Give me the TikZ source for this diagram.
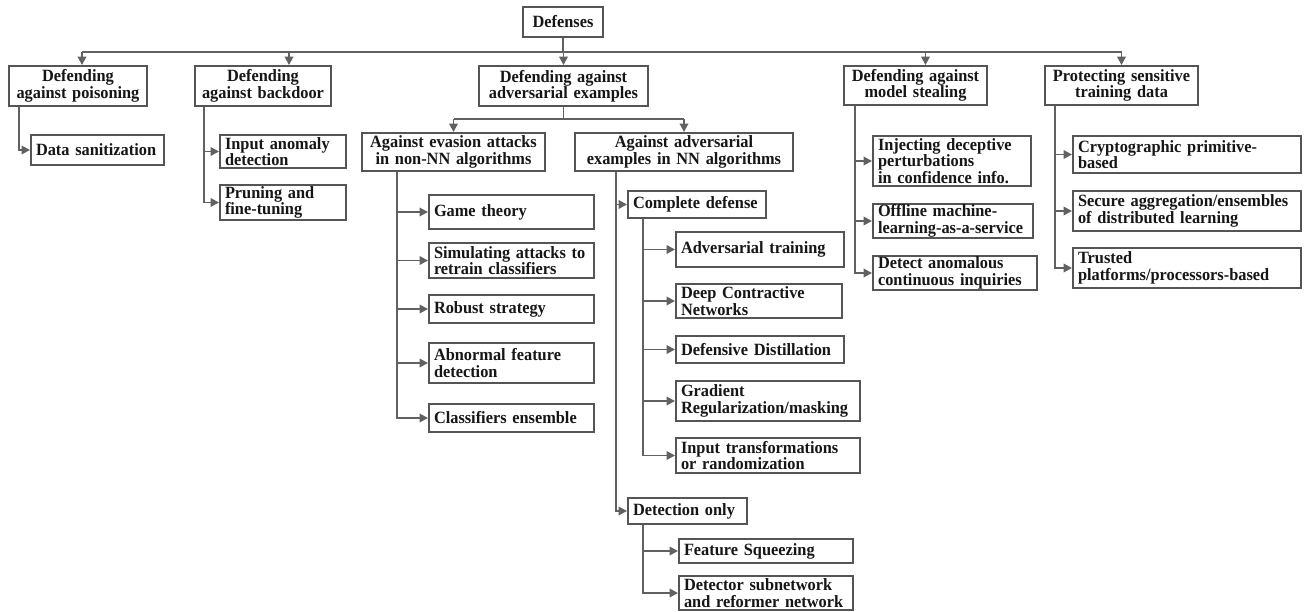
\documentclass[tikz,border=0pt]{standalone}
\usepackage{fontspec}
\setmainfont[FakeStretch=0.95]{Liberation Serif}
\usetikzlibrary{arrows.meta}
\definecolor{edgegray}{HTML}{555555}
\definecolor{linegray}{HTML}{616161}
\definecolor{inkdark}{HTML}{161616}
% box from corner (x1,y1) to (x2,y2), y measured downwards
\newcommand\treebox[7][left]{%
  \pgfmathsetmacro\bxw{#4-#2}\pgfmathsetmacro\bxh{#5-#3}%
  \pgfmathsetmacro\bxcx{(#2+#4)/2}\pgfmathsetmacro\bxcy{-(#3+#5)/2}%
  \pgfmathsetmacro\bxtw{#4-#2-10}%
  \node[box, minimum width=\bxw pt, minimum height=\bxh pt, text width=\bxtw pt, align=#1]
    (#6) at (\bxcx pt,\bxcy pt) {#7};}
\begin{document}
\begin{tikzpicture}[
  box/.style={draw=edgegray, line width=1.9pt, fill=white, inner xsep=5pt, inner ysep=0pt,
    text=inkdark, font=\fontsize{17.2pt}{16.4pt}\selectfont\bfseries},
  link/.style={draw=linegray, line width=1.9pt},
  arr/.style={link, -{Triangle[length=8.5pt,width=8.5pt]}}
]
\useasboundingbox (0,0) rectangle (1307pt,-611pt);

% top level
\treebox[center]{523}{7}{603}{37}{def}{Defenses}
\treebox[center]{9}{66}{147}{106}{pois}{Defending\\against poisoning}
\treebox[center]{195}{66}{331}{106}{back}{Defending\\against backdoor}
\treebox[center]{479}{66}{648}{106}{adv}{Defending against\\adversarial examples}
\treebox[center]{844}{66}{987}{105}{steal}{Defending against\\model stealing}
\treebox[center]{1045}{66}{1198}{105}{prot}{Protecting sensitive\\training data}

% poisoning / backdoor
\treebox{31}{135}{164}{165}{san}{Data sanitization}
\treebox{220}{135}{346}{168}{anom}{Input anomaly\\detection}
\treebox{220}{185}{346}{220}{prune}{Pruning and\\fine-tuning}

% adversarial examples
\treebox[center]{362}{133}{545}{171}{evas}{Against evasion attacks\\in non-NN algorithms}
\treebox[center]{575}{133}{793}{171}{nn}{Against adversarial\\examples in NN algorithms}
\treebox{429}{195}{594}{229}{game}{Game theory}
\treebox{429}{243}{594}{278}{simu}{Simulating attacks to\\retrain classifiers}
\treebox{429}{295}{594}{323}{robust}{Robust strategy}
\treebox{429}{343}{594}{383}{abn}{Abnormal feature\\detection}
\treebox{429}{404}{594}{432}{ens}{Classifiers ensemble}
\treebox{628}{191}{766}{218}{comp}{Complete defense}
\treebox{676}{232}{844}{267}{advtr}{Adversarial training}
\treebox{676}{284}{842}{318}{dcn}{Deep Contractive\\Networks}
\treebox{676}{336}{844}{363}{dist}{Defensive Distillation}
\treebox{676}{381}{860}{421}{grad}{Gradient\\Regularization/masking}
\treebox{676}{438}{860}{473}{trans}{Input transformations\\or randomization}
\treebox{628}{498}{747}{524}{detonly}{Detection only}
\treebox{679}{539}{853}{563}{squeeze}{Feature Squeezing}
\treebox{679}{576}{853}{610}{reform}{Detector subnetwork\\and reformer network}

% model stealing
\treebox{873}{136}{1031}{186}{inject}{Injecting deceptive\\perturbations\\in confidence info.}
\treebox{873}{204}{1033}{238}{offline}{Offline machine-\\learning-as-a-service}
\treebox{873}{256}{1037}{290}{inq}{Detect anomalous\\continuous inquiries}

% sensitive training data
\treebox{1073}{136}{1301}{173}{crypto}{Cryptographic primitive-\\based}
\treebox{1073}{191}{1301}{231}{secagg}{Secure aggregation/ensembles\\of distributed learning}
\treebox{1073}{248}{1301}{288}{trust}{Trusted\\platforms/processors-based}

% main bus
\coordinate (bus) at (0,-52pt);
\draw[link] (def.south) -- (def.south |- bus);
\draw[link] ([xshift=4pt]pois.north |- bus) -- (prot.north |- bus);
\draw[arr] ([xshift=4pt]pois.north |- bus) -- ([xshift=4pt]pois.north);
\draw[arr] ([xshift=26pt]back.north |- bus) -- ([xshift=26pt]back.north);
\draw[arr] (adv.north |- bus) -- (adv.north);
\draw[arr] ([xshift=10pt]steal.north |- bus) -- ([xshift=10pt]steal.north);
\draw[arr] (prot.north |- bus) -- (prot.north);

% poisoning and backdoor
\draw[arr] ([xshift=11pt]pois.south west) |- (san.west);
\draw[arr] ([xshift=10pt]back.south west) |- (prune.west);
\draw[arr] ([xshift=10pt]back.south west |- anom.west) -- (anom.west);

% adversarial split
\coordinate (advbus) at ([yshift=-12pt]adv.south);
\draw[link] (adv.south) -- (advbus);
\draw[link] (evas.north |- advbus) -- (nn.north |- advbus);
\draw[arr] (evas.north |- advbus) -- (evas.north);
\draw[arr] (nn.north |- advbus) -- (nn.north);

% non-NN branch
\coordinate (evt) at ([xshift=36pt]evas.south west);
\draw[arr] (evt) |- (ens.west);
\foreach \c in {game,simu,robust,abn} \draw[arr] (evt |- \c.west) -- (\c.west);

% NN branch
\coordinate (nnt) at ([xshift=42pt]nn.south west);
\draw[arr] (nnt) |- (detonly.west);
\draw[arr] (nnt |- comp.west) -- (comp.west);
\coordinate (cpt) at ([xshift=16pt]comp.south west);
\draw[arr] (cpt) |- (trans.west);
\foreach \c in {advtr,dcn,dist,grad} \draw[arr] (cpt |- \c.west) -- (\c.west);
\coordinate (dtt) at ([xshift=16pt]detonly.south west);
\draw[arr] (dtt) |- (reform.west);
\draw[arr] (dtt |- squeeze.west) -- (squeeze.west);

% model stealing
\coordinate (stt) at ([xshift=12pt]steal.south west);
\draw[arr] (stt) |- (inq.west);
\foreach \c in {inject,offline} \draw[arr] (stt |- \c.west) -- (\c.west);

% sensitive training data
\coordinate (prt) at ([xshift=11pt]prot.south west);
\draw[arr] (prt) |- (trust.west);
\foreach \c in {crypto,secagg} \draw[arr] (prt |- \c.west) -- (\c.west);
\end{tikzpicture}
\end{document}
